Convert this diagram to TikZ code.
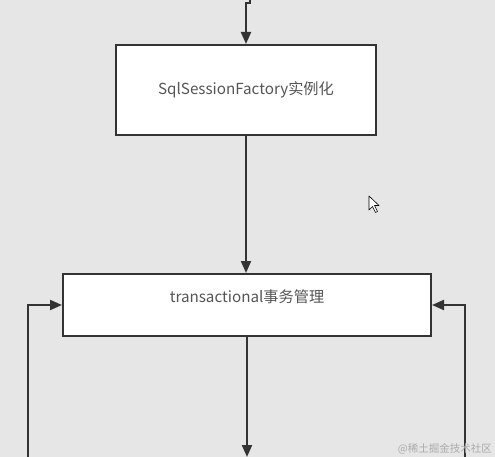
\documentclass[tikz,border=0pt]{standalone}
\usepackage{fontspec}
\setmainfont{Noto Sans CJK SC}
\usepackage{xcolor}
\usetikzlibrary{arrows.meta,positioning}
\definecolor{bgc}{RGB}{230,230,230}
\definecolor{linec}{RGB}{51,51,51}
\definecolor{txtc}{RGB}{85,85,85}
\definecolor{markc}{RGB}{170,170,170}
\tikzset{
  procbox/.style={draw=linec,fill=white,line width=2pt,inner sep=0pt},
  flow/.style={-{Triangle[length=12pt,width=10pt]},draw=linec,line width=2pt},
  boxtxt/.style={text=txtc,font=\fontsize{15.2}{18}\selectfont},
}
\begin{document}
\begin{tikzpicture}[x=1pt,y=-1pt]
  \fill[bgc] (0,0) rectangle (495,457);
  \useasboundingbox (0,0) rectangle (495,457);
  % boxes
  \node[procbox,minimum width=260pt,minimum height=90pt,boxtxt] (fac) at (246,90) {SqlSessionFactory实例化};
  \node[procbox,minimum width=368pt,minimum height=62pt] (trans) at (247,305) {};
  \node[boxtxt] (transtxt) at ([yshift=8pt]trans.center) {transactional事务管理};
  % free ends
  \coordinate (top) at (250,0);
  \coordinate (jog) at (250,3);
  \coordinate (down) at (247,457);
  \coordinate (lft) at (28,457);
  \coordinate (rgt) at (465,457);
  % connectors
  \draw[flow] (top) -- (jog) -| (fac.north);
  \draw[flow] (fac.south) -- (fac.south |- trans.north);
  \draw[flow] (trans.south) -- (down);
  \draw[flow] (lft) |- (trans.west);
  \draw[flow] (rgt) |- (trans.east);
  % cursor
  \draw[fill=white,line width=0.6pt,line join=round]
    (369,196) -- (369,210) -- (372.5,206.5) -- (375.5,212.5) -- (377.5,211.5)
    -- (374.5,205.5) -- (379,205.5) -- cycle;
  % watermark
  \node[text=markc,font=\fontsize{10.5}{12}\selectfont,anchor=south east,inner sep=0pt] (mark) at (492,455) {@稀土掘金技术社区};
\end{tikzpicture}
\end{document}
